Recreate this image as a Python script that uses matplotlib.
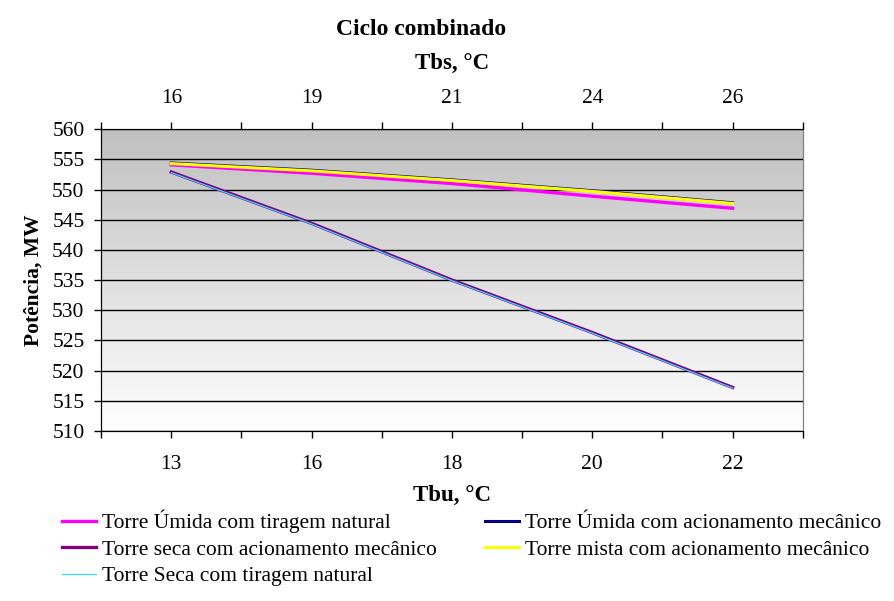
import numpy as np
import matplotlib
matplotlib.use('Agg')
import matplotlib.pyplot as plt
from matplotlib.colors import LinearSegmentedColormap

# data
tbu = ['13', '16', '18', '20', '22']
tbs = ['16', '19', '21', '24', '26']
umida_natural = [554.1, 552.7, 551.0, 548.9, 546.9]
umida_mecanico = [554.4, 553.2, 551.6, 549.8, 547.8]
seca_mecanico = [552.9, 544.4, 535.0, 526.3, 517.2]
mista_mecanico = [554.3, 553.1, 551.5, 549.7, 547.7]
seca_natural = [552.8, 544.3, 534.9, 526.2, 517.1]

plt.rcParams['font.family'] = ['Liberation Serif', 'DejaVu Serif']
FS = 15.5

fig = plt.figure(figsize=(8.95, 6.01), dpi=100)
ax = fig.add_axes([0.113, 0.283, 0.784, 0.502])

x = np.arange(len(tbu))

# gradient background (grey at top, white at bottom)
cmap = LinearSegmentedColormap.from_list('bg', ['#ffffff', '#c0c0c0'])
grad = np.linspace(0, 1, 256).reshape(-1, 1)
ax.imshow(grad, cmap=cmap, aspect='auto', origin='lower',
          extent=[0, 1, 0, 1], transform=ax.transAxes, zorder=0)

ax.plot(x, umida_natural, color='#ff00ff', lw=2.4, label='Torre Úmida com tiragem natural', zorder=3)
ax.plot(x, umida_mecanico, color='#000080', lw=2.2, label='Torre Úmida com acionamento mecânico', zorder=3)
ax.plot(x, seca_mecanico, color='#800080', lw=2.4, label='Torre seca com acionamento mecânico', zorder=3)
ax.plot(x, mista_mecanico, color='#ffff00', lw=2.2, label='Torre mista com acionamento mecânico', zorder=3)
ax.plot(x, seca_natural, color='#33ddff', lw=0.9, label='Torre Seca com tiragem natural', zorder=3)

ax.set_xlim(-0.5, 4.5)
ax.set_ylim(510, 560)
ax.set_yticks(np.arange(510, 561, 5))
ax.yaxis.grid(True, color='black', lw=1)
ax.set_axisbelow(False)
for gl in ax.get_ygridlines():
    gl.set_zorder(1)

ax.set_xticks(x)
ax.set_xticklabels(tbu)
ax.set_xticks(np.arange(-0.5, 4.6, 1), minor=True)
ax.tick_params(axis='x', which='both', direction='out', length=5, width=1, labelsize=FS, pad=12)
ax.tick_params(axis='y', direction='out', length=5, width=1, labelsize=FS, pad=7)

ax.spines['right'].set_color('#808080')
ax.spines['top'].set_color('#808080')

ax.set_xlabel('Tbu, °C', fontsize=16.5, fontweight='bold', labelpad=8)
ax.set_ylabel('Potência, MW', fontsize=FS, fontweight='bold', labelpad=6)

# secondary top axis (Tbs)
top = ax.twiny()
top.set_xlim(ax.get_xlim())
top.set_xticks(x)
top.set_xticklabels(tbs)
top.set_xticks(np.arange(-0.5, 4.6, 1), minor=True)
top.tick_params(axis='x', which='both', direction='out', length=5, width=1, labelsize=FS, pad=10)
top.spines['top'].set_color('black')
top.spines['right'].set_color('#808080')
top.set_xlabel('Tbs, °C', fontsize=16.5, fontweight='bold', labelpad=15)

fig.text(0.47, 0.951, 'Ciclo combinado', ha='center', va='center', fontsize=17, fontweight='bold')

h, l = ax.get_legend_handles_labels()
order = [0, 2, 4, 1, 3]
fig.legend([h[i] for i in order], [l[i] for i in order], ncol=2, frameon=False,
           loc='upper left', bbox_to_anchor=(0.069, 0.152), fontsize=FS,
           handlelength=1.6, handletextpad=0.25, columnspacing=2.25,
           labelspacing=0.3, borderaxespad=0, borderpad=0)

fig.savefig('out.png', dpi=100)
